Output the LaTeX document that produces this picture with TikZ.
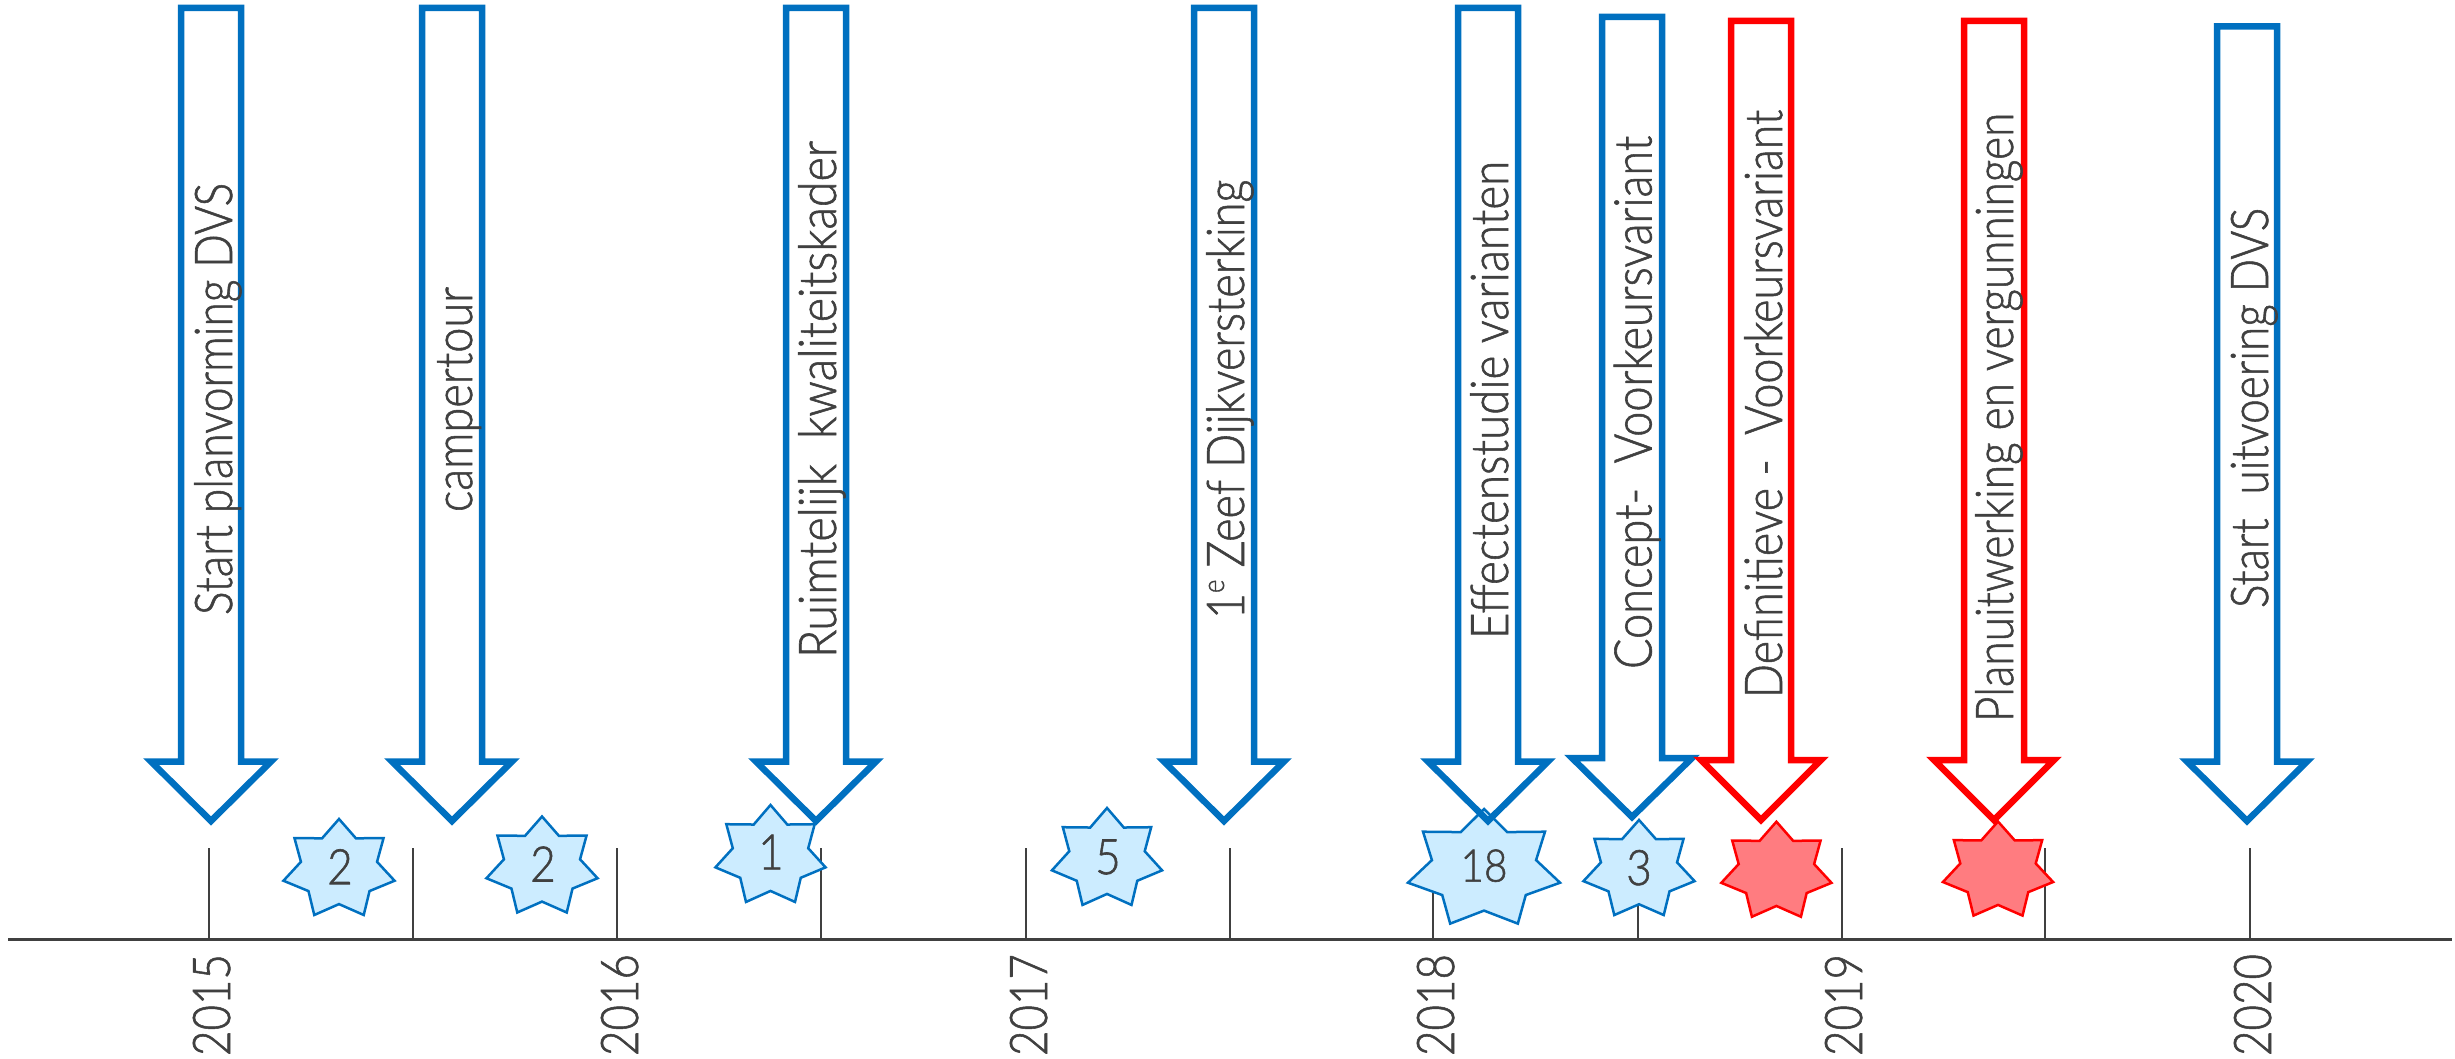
\documentclass[tikz,border=0pt]{standalone}
\usepackage{graphicx}
\usepackage{fontspec}
\setmainfont[FakeBold=1.2]{Lato Light}
\definecolor{ink}{HTML}{404040}
\definecolor{bluel}{HTML}{0070C0}
\definecolor{bluef}{HTML}{CCECFF}
\definecolor{redl}{HTML}{FF0000}
\definecolor{redf}{HTML}{FF7C80}
\tikzset{
  axisline/.style={draw=ink,line width=3pt},
  tickline/.style={draw=ink,line width=2.5pt},
  barrow/.style={draw=bluel,line width=6.5pt,miter limit=10},
  rarrow/.style={draw=redl,line width=6.5pt,miter limit=10},
  bstar/.style={draw=bluel,fill=bluef,line width=2.5pt},
  rstar/.style={draw=redl,fill=redf,line width=2.5pt},
  lab/.style={text=ink,inner sep=0pt,anchor=base,rotate=90},
  num/.style={text=ink,inner sep=0pt,anchor=center}
}
\newcommand{\lblfont}{\fontsize{52}{60}\selectfont}
\newsavebox\lblbox
% name, baseline x, top y, bottom y, text
\newcommand{\lbl}[5]{%
  \node[lab] (#1) at (#2,{(#3+#4)/2}) {\lblfont\sbox\lblbox{#5}\pgfmathsetmacro\lblr{(#4-#3)/\the\wd\lblbox}\scalebox{\lblr}[1]{\usebox\lblbox}};%
}
% centre x, top, head y, tip y, style
\newcommand{\dnarrow}[5]{%
  \draw[#5] (#1-30,#2) -- (#1+30,#2) -- (#1+30,#3) -- (#1+60,#3) -- (#1,#4) -- (#1-60,#3) -- (#1-30,#3) -- cycle;%
}
% cx, cy, rx, ry, style
\newcommand{\septstar}[5]{%
  \draw[#5,shift={(#1,#2)},xscale=#3,yscale=#4]
    (-90:1) -- (-64.29:.685) -- (-38.57:1) -- (-12.86:.685) -- (12.86:1) -- (38.57:.685) -- (64.29:1) -- (90:.685)
    -- (115.71:1) -- (141.43:.685) -- (167.14:1) -- (192.86:.685) -- (218.57:1) -- (244.29:.685) -- cycle;%
}
\newcommand{\numtext}[3]{\fontsize{#1}{#1}\selectfont\scalebox{#2}[1]{#3}}
\begin{document}
\begin{tikzpicture}[x=1pt,y=-1pt]
\useasboundingbox (0,0) rectangle (2455,1059);
% axis and ticks
\coordinate (axl) at (8,939.5);
\coordinate (axr) at (2452,939.5);
\draw[axisline] (axl) -- (axr);
\foreach \tx in {209,413,617,821,1026,1230,1433,1638,1842,2045,2250}
  \draw[tickline] (\tx,848) -- (\tx,939.5);
% year labels
\lbl{y15}{230}{954}{1056}{2015}
\lbl{y16}{638}{954}{1056}{2016}
\lbl{y17}{1047}{954}{1056}{2017}
\lbl{y18}{1454}{954}{1056}{2018}
\lbl{y19}{1862}{954}{1056}{2019}
\lbl{y20}{2271}{954}{1056}{2020}
% stars
\septstar{339}{869.5}{57}{50.5}{bstar}
\septstar{542}{867}{57}{50.5}{bstar}
\septstar{770.5}{856}{56.5}{51}{bstar}
\septstar{1107}{859}{56.5}{51}{bstar}
\septstar{1484}{869.3}{78}{60.3}{bstar}
\septstar{1639}{870}{57}{50}{bstar}
\septstar{1776.4}{871.7}{56.5}{50}{rstar}
\septstar{1998}{871}{56.5}{49.5}{rstar}
\node[num] (n1) at (340,866.7) {\numtext{49}{.9}{2}};
\node[num] (n2) at (543,864) {\numtext{49}{.9}{2}};
\node[num] (n3) at (771,852) {\numtext{49}{.9}{1}};
\node[num] (n4) at (1108,857) {\numtext{49}{.9}{5}};
\node[num] (n5) at (1484,865.7) {\numtext{45}{.9}{18}};
\node[num] (n6) at (1639,867.7) {\numtext{49}{.9}{3}};
% arrows
\dnarrow{211}{8}{761.5}{821}{barrow}
\dnarrow{452}{8}{761.5}{821}{barrow}
\dnarrow{816}{8}{761.5}{821}{barrow}
\dnarrow{1224}{8}{761.5}{821}{barrow}
\dnarrow{1488}{8}{761.5}{821}{barrow}
\dnarrow{1632}{17}{758}{817}{barrow}
\dnarrow{1761}{21}{760}{820}{rarrow}
\dnarrow{1994}{21}{760}{820}{rarrow}
\dnarrow{2247}{26.5}{761.5}{821}{barrow}
% arrow labels
\lbl{t1}{232}{183}{615}{Start planvorming DVS}
\lbl{t2}{472}{287}{512}{campertour}
\lbl{t3}{836}{141}{658}{Ruimtelijk\ \ kwaliteitskader}
\lbl{t4}{1244}{180}{619}{1\raisebox{20pt}{\fontsize{30}{30}\selectfont e} Zeef Dijkversterking}
\lbl{t5}{1508}{161}{639}{Effectenstudie varianten}
\lbl{t6}{1651.5}{136}{669}{Concept-\ \ Voorkeursvariant}
\lbl{t7}{1782}{110}{698}{Definitieve -\ \ Voorkeursvariant}
\lbl{t8}{2013}{113}{722}{Planuitwerking en vergunningen}
\lbl{t9}{2268}{208}{608}{Start\ \ uitvoering DVS}
\end{tikzpicture}
\end{document}
